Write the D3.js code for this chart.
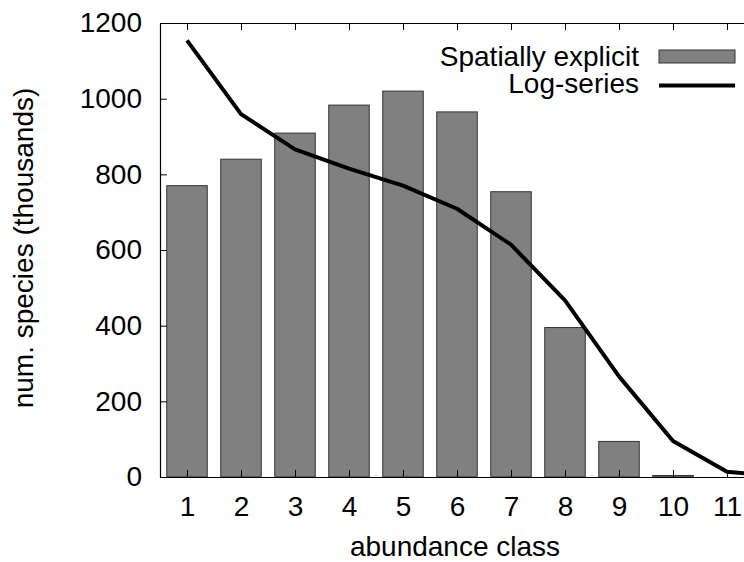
<!DOCTYPE html>
<html>
<head>
<meta charset="utf-8">
<script src="https://cdn.jsdelivr.net/npm/d3@7"></script>
<style>
  body { margin: 0; background: #fff; }
  svg { display: block; font-family: "Liberation Sans", Arial, sans-serif; }
</style>
</head>
<body>
<div id="chart"></div>
<script>
// Data
const classes = [1, 2, 3, 4, 5, 6, 7, 8, 9, 10, 11];
const spatialValues = [770, 840, 909, 983, 1020, 965, 754, 395, 94, 4, 0];
const logClasses = [1, 2, 3, 4, 5, 6, 7, 8, 9, 10, 11, 12];
const logValues = [1154, 959, 866, 815, 770, 709, 614, 467, 266, 95, 14, 2];
const yTicks = [0, 200, 400, 600, 800, 1000, 1200];
const legendLabels = ["Spatially explicit", "Log-series"];

const width = 744;
const height = 562;
const margin = { left: 160, top: 23, bottom: 85 };
const plotRight = 754; // the right border falls just outside the picture
const fontSize = "28px";

const svg = d3.select("#chart")
    .append("svg")
    .attr("width", width)
    .attr("height", height);

const x = d3.scaleLinear()
    .domain([0.5, 11.5])
    .range([margin.left, plotRight]);

const y = d3.scaleLinear()
    .domain([0, 1200])
    .range([height - margin.bottom, margin.top]);

const step = x(2) - x(1);
const barW = step * 0.75;

// clip for plot area
svg.append("clipPath")
    .attr("id", "plotClip")
    .append("rect")
    .attr("x", margin.left)
    .attr("y", margin.top)
    .attr("width", plotRight - margin.left)
    .attr("height", y(0) - margin.top);

// Bars
svg.append("g")
    .selectAll("rect")
    .data(classes.map((c, i) => ({ c, v: spatialValues[i] })).filter(d => d.v > 0))
    .enter().append("rect")
    .attr("x", d => x(d.c) - barW / 2)
    .attr("y", d => y(d.v))
    .attr("width", barW)
    .attr("height", d => y(0) - y(d.v))
    .attr("fill", "#808080")
    .attr("stroke", "#333")
    .attr("stroke-width", 1);

// Axes (ticks pointing inward, gnuplot style)
const yAxis = d3.axisLeft(y)
    .tickValues(yTicks)
    .tickSizeInner(-7)
    .tickSizeOuter(0)
    .tickPadding(18)
    .tickFormat(d3.format("d"));

const xAxis = d3.axisBottom(x)
    .tickValues(classes)
    .tickSizeInner(-7)
    .tickSizeOuter(0)
    .tickPadding(19)
    .tickFormat(d3.format("d"));

const xTop = d3.axisTop(x)
    .tickValues(classes)
    .tickSizeInner(-7)
    .tickSizeOuter(0)
    .tickFormat("");

const gy = svg.append("g")
    .attr("transform", `translate(${margin.left},0)`)
    .call(yAxis);

const gx = svg.append("g")
    .attr("transform", `translate(0,${y(0)})`)
    .call(xAxis);

const gt = svg.append("g")
    .attr("transform", `translate(0,${margin.top})`)
    .call(xTop);

[gy, gx, gt].forEach(g => {
    g.select(".domain").attr("stroke", "#000").attr("stroke-width", 1.2);
    g.selectAll(".tick line").attr("stroke", "#000").attr("stroke-width", 1);
    g.selectAll(".tick text")
        .attr("fill", "#000")
        .style("font-size", fontSize)
        .style("font-family", "'Liberation Sans', Arial, sans-serif");
});

// Log-series line
const line = d3.line()
    .x((d, i) => x(logClasses[i]))
    .y(d => y(d));

svg.append("path")
    .datum(logValues)
    .attr("clip-path", "url(#plotClip)")
    .attr("d", line)
    .attr("fill", "none")
    .attr("stroke", "#000")
    .attr("stroke-width", 4)
    .attr("stroke-linejoin", "round");

// Axis titles
svg.append("text")
    .attr("x", 455)
    .attr("y", 556)
    .attr("text-anchor", "middle")
    .style("font-size", fontSize)
    .text("abundance class");

svg.append("text")
    .attr("transform", `translate(33,248) rotate(-90)`)
    .attr("text-anchor", "middle")
    .style("font-size", fontSize)
    .text("num. species (thousands)");

// Legend
const legend = svg.append("g");

legend.append("text")
    .attr("x", 639)
    .attr("y", 66)
    .attr("text-anchor", "end")
    .style("font-size", fontSize)
    .text(legendLabels[0]);

legend.append("rect")
    .attr("x", 659)
    .attr("y", 50)
    .attr("width", 76)
    .attr("height", 13)
    .attr("fill", "#808080")
    .attr("stroke", "#333")
    .attr("stroke-width", 1);

legend.append("text")
    .attr("x", 639)
    .attr("y", 93)
    .attr("text-anchor", "end")
    .style("font-size", fontSize)
    .text(legendLabels[1]);

legend.append("line")
    .attr("x1", 659)
    .attr("x2", 735)
    .attr("y1", 85.5)
    .attr("y2", 85.5)
    .attr("stroke", "#000")
    .attr("stroke-width", 4);
</script>
</body>
</html>
